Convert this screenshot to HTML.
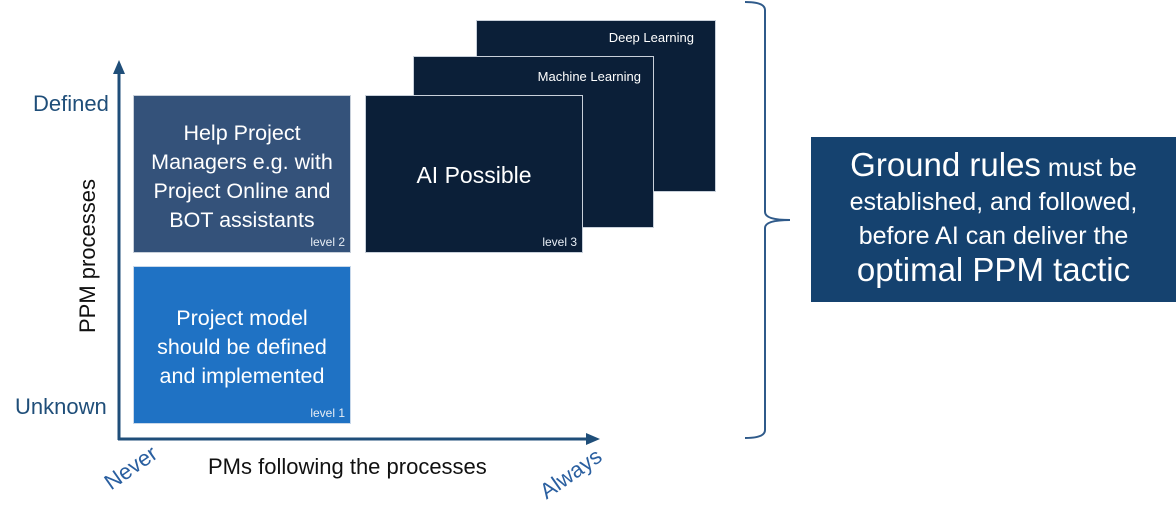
<!DOCTYPE html>
<html><head><meta charset="utf-8"><style>
body{margin:0;width:1176px;height:522px;background:#fff;position:relative;overflow:hidden;font-family:"Liberation Sans",sans-serif}
.b{position:absolute;box-sizing:border-box;color:#fff;text-align:center}
.d{background:#0b1f38;border:1px solid #c8d0da}
.t{position:absolute;white-space:nowrap}
.lv{position:absolute;right:5px;bottom:3px;font-size:12px;color:#e8eef5}
</style></head><body>
<div class="b d" style="left:476px;top:20px;width:240px;height:172px"><span class="t" style="right:21px;top:9px;font-size:13px">Deep Learning</span></div>
<div class="b d" style="left:413px;top:56px;width:241px;height:172px"><span class="t" style="right:12px;top:12px;font-size:13px">Machine Learning</span></div>
<div class="b d" style="left:365px;top:95px;width:218px;height:158px"><span class="t" style="left:0;right:0;top:66px;font-size:23px">AI Possible</span><span class="lv">level 3</span></div>
<div class="b" style="left:133px;top:95px;width:218px;height:158px;background:#34527a;border:1px solid #c8d0da"><div style="position:absolute;left:-5px;right:-5px;top:23px;font-size:21.5px;line-height:29px">Help Project<br>Managers e.g. with<br>Project Online and<br>BOT assistants</div><span class="lv">level 2</span></div>
<div class="b" style="left:133px;top:266px;width:218px;height:158px;background:#1f72c4;border:1px solid #c8d8ea"><div style="position:absolute;left:-5px;right:-5px;top:37px;font-size:21.5px;line-height:29px">Project model<br>should be defined<br>and implemented</div><span class="lv">level 1</span></div>
<svg style="position:absolute;left:0;top:0" width="1176" height="522">
<line x1="119" y1="440" x2="119" y2="72" stroke="#1f4e79" stroke-width="3"/>
<polygon points="119,60 113,74 125,74" fill="#1f4e79"/>
<line x1="118" y1="439" x2="588" y2="439" stroke="#1f4e79" stroke-width="3"/>
<polygon points="600,439 586,433 586,445" fill="#1f4e79"/>
<path d="M745,2 Q765,2 765,10 L765,212 Q765,220 790,220 Q765,220 765,228 L765,430 Q765,438 745,438" fill="none" stroke="#2f5a8a" stroke-width="2"/>
</svg>
<span class="t" style="left:33px;top:91px;font-size:22px;color:#1f4e79">Defined</span>
<span class="t" style="left:15px;top:394px;font-size:22px;color:#1f4e79">Unknown</span>
<span class="t" style="left:88px;top:256px;font-size:22px;color:#111;transform:translate(-50%,-50%) rotate(-90deg)">PPM processes</span>
<span class="t" style="left:208px;top:454px;font-size:22px;color:#111">PMs following the processes</span>
<span class="t" style="left:131px;top:468px;font-size:22px;color:#2a5fa0;transform:translate(-50%,-50%) rotate(-35deg)">Never</span>
<span class="t" style="left:571px;top:474px;font-size:22px;color:#2a5fa0;transform:translate(-50%,-50%) rotate(-35deg)">Always</span>
<div class="b" style="left:811px;top:137px;width:365px;height:165px;background:#15426f"><div style="position:absolute;left:-10px;right:-10px;top:11px;line-height:34px;font-size:25px"><span style="font-size:33px">Ground rules</span> must be<br>established, and followed,<br>before AI can deliver the<br><span style="font-size:33px">optimal PPM tactic</span></div></div>
</body></html>
